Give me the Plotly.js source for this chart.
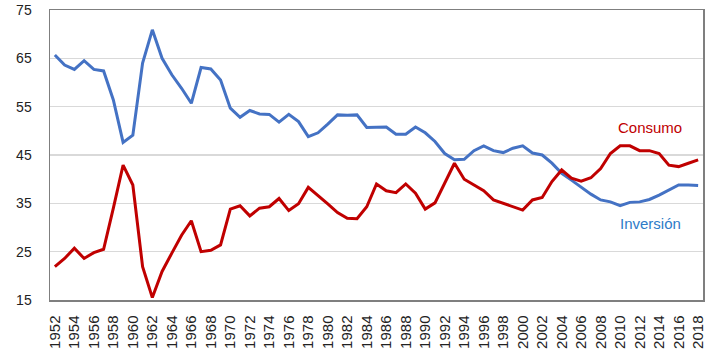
<!DOCTYPE html>
<html><head><meta charset="utf-8">
<script src="https://cdn.plot.ly/plotly-3.0.1.min.js"></script>
<style>html,body{margin:0;padding:0;background:#fff}#chart{width:713px;height:355px}</style>
</head><body><div id="chart"></div>
<script>
const years = [];
for (let y = 1952; y <= 2018; y++) years.push(y);
const inversion = [65.7,63.6,62.7,64.5,62.7,62.4,56.4,47.6,49.1,64.0,70.9,65.0,61.6,58.8,55.7,63.1,62.8,60.5,
  54.7,52.8,54.2,53.5,53.4,51.8,53.4,51.9,48.8,49.6,51.4,53.3,53.2,53.3,50.7,50.8,50.8,49.3,49.3,50.8,49.6,47.8,
  45.3,44.0,44.1,45.9,46.9,45.9,45.5,46.4,46.9,45.4,45.0,43.3,41.2,39.8,38.4,36.9,35.7,35.3,34.5,35.2,35.3,35.8,
  36.7,37.8,38.8,38.8,38.7];
const consumo = [21.9,23.6,25.7,23.6,24.8,25.5,34.0,42.9,38.8,21.9,15.5,20.9,24.7,28.4,31.4,25.0,25.3,26.4,
  33.8,34.5,32.4,34.0,34.3,36.0,33.5,34.9,38.3,36.7,34.9,33.1,31.9,31.8,34.3,39.0,37.6,37.2,39.0,37.1,33.8,35.1,
  39.1,43.3,40.0,38.8,37.6,35.7,35.0,34.3,33.6,35.7,36.2,39.5,41.9,40.2,39.6,40.3,42.2,45.3,46.9,46.9,45.9,45.9,
  45.3,42.9,42.6,43.3,44.0];
const tickYears = years.filter(y => (y - 1952) % 2 === 0);
const yTicks = [15,25,35,45,55,65,75];

const traces = [
  {x: years, y: inversion, type: 'scatter', mode: 'lines', name: 'Inversión',
   line: {color: '#4472C4', width: 3}},
  {x: years, y: consumo, type: 'scatter', mode: 'lines', name: 'Consumo',
   line: {color: '#C00000', width: 3}}
];
const layout = {
  width: 713, height: 355,
  margin: {l: 50, r: 10, t: 10, b: 55},
  showlegend: false,
  paper_bgcolor: '#fff', plot_bgcolor: '#fff',
  font: {family: 'Liberation Sans, Arial, sans-serif', color: '#222'},
  xaxis: {range: [1951.5, 2018.5], tickvals: tickYears, ticktext: tickYears.map(String),
    tickangle: -90, tickfont: {size: 15, color: '#222'}, showgrid: false, zeroline: false,
    showline: true, mirror: true, linecolor: '#7f7f7f', linewidth: 1.5, ticks: '', ticklabelstandoff: 8},
  yaxis: {range: [15, 75], tickvals: yTicks, tickfont: {size: 14, color: '#222'},
    showgrid: true, gridcolor: '#d9d9d9', gridwidth: 1.2, zeroline: false,
    showline: true, mirror: true, linecolor: '#7f7f7f', linewidth: 1.5, ticks: '', ticklabelstandoff: 14},
  annotations: [
    {x: 2013.1, y: 50.6, xref: 'x', yref: 'y', text: 'Consumo', showarrow: false,
     font: {size: 15, color: '#C00000'}},
    {x: 2013.1, y: 30.8, xref: 'x', yref: 'y', text: 'Inversión', showarrow: false,
     font: {size: 15, color: '#2E7BC8'}}
  ]
};
Plotly.newPlot('chart', traces, layout, {displayModeBar: false, staticPlot: true});
</script></body></html>
